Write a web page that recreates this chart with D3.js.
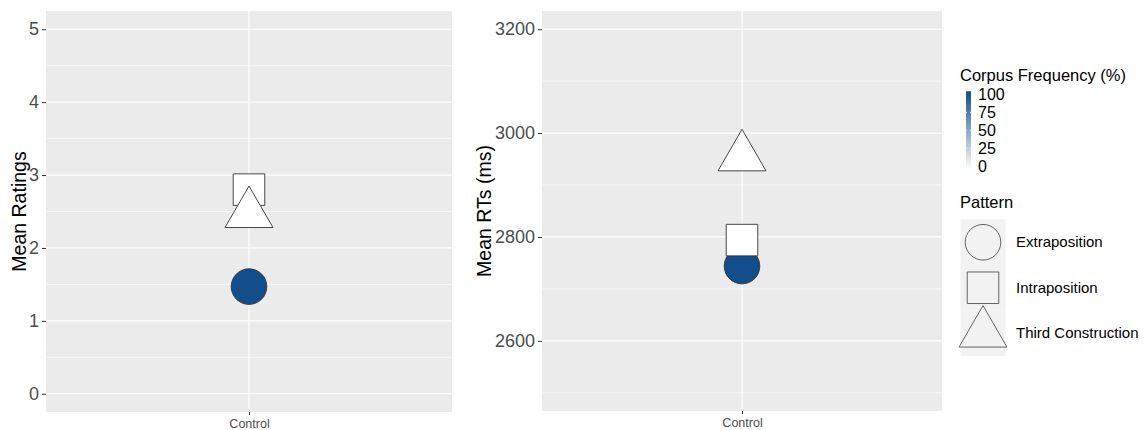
<!DOCTYPE html>
<html>
<head>
<meta charset="utf-8">
<script src="https://cdn.jsdelivr.net/npm/d3@7"></script>
<style>
  body { margin: 0; background: #fff; }
  svg { display: block; font-family: "Liberation Sans", Arial, sans-serif; }
</style>
</head>
<body>
<svg id="root" width="1145" height="430"></svg>
<script>
(function () {
  // data
  let patterns = ["Extraposition", "Intraposition", "Third Construction"];
  let conditions = ["Control"];
  let ratings = [1.47, 2.80, 2.47];
  let rts = [2744, 2794, 2954];
  let freq = [100, 0, 0];

  let ratingTicks = [0, 1, 2, 3, 4, 5];
  let ratingMinor = [0.5, 1.5, 2.5, 3.5, 4.5];
  let rtTicks = [2600, 2800, 3000, 3200];
  let rtMinor = [2500, 2700, 2900, 3100];
  let freqTicks = [0, 25, 50, 75, 100];

  let svg = d3.select("#root");

  let fillScale = d3.scaleLinear()
    .domain([0, 100])
    .range(["#ffffff", "#124e8b"]);

  let symbolTypes = [d3.symbolCircle, d3.symbolSquare, d3.symbolTriangle];
  let s = 17.8;
  let symbolSize = Math.PI * s * s;

  function drawPanel(opts) {
    let x = d3.scalePoint()
      .domain(conditions)
      .range([opts.left, opts.right])
      .padding(0.5);

    let y = d3.scaleLinear()
      .domain(opts.domain)
      .range([opts.bottom, opts.top]);

    let g = svg.append("g");

    g.append("rect")
      .attr("x", opts.left)
      .attr("y", opts.top)
      .attr("width", opts.right - opts.left)
      .attr("height", opts.bottom - opts.top)
      .attr("fill", "#ebebeb");

    g.selectAll(".minor")
      .data(opts.minor)
      .enter().append("line")
      .attr("x1", opts.left).attr("x2", opts.right)
      .attr("y1", d => y(d)).attr("y2", d => y(d))
      .attr("stroke", "#fff")
      .attr("stroke-width", 0.6);

    g.selectAll(".major")
      .data(opts.ticks)
      .enter().append("line")
      .attr("x1", opts.left).attr("x2", opts.right)
      .attr("y1", d => y(d)).attr("y2", d => y(d))
      .attr("stroke", "#fff")
      .attr("stroke-width", 1.2);

    g.selectAll(".vmajor")
      .data(conditions)
      .enter().append("line")
      .attr("x1", d => x(d)).attr("x2", d => x(d))
      .attr("y1", opts.top).attr("y2", opts.bottom)
      .attr("stroke", "#fff")
      .attr("stroke-width", 1.2);

    // y axis
    let yAxis = g.append("g")
      .attr("transform", `translate(${opts.left},0)`)
      .call(d3.axisLeft(y).tickValues(opts.ticks).tickFormat(d3.format("d")).tickSize(4).tickPadding(3));
    yAxis.select(".domain").remove();
    yAxis.selectAll("line").attr("stroke", "#333").attr("stroke-width", 1);
    yAxis.selectAll("text")
      .attr("fill", "#4d4d4d")
      .style("font-size", "18px")
      .style("font-family", "Liberation Sans, Arial, sans-serif");

    // x axis
    let xAxis = g.append("g")
      .attr("transform", `translate(0,${opts.bottom})`)
      .call(d3.axisBottom(x).tickSize(3).tickPadding(4.5));
    xAxis.select(".domain").remove();
    xAxis.selectAll("line").attr("stroke", "#333").attr("stroke-width", 1);
    xAxis.selectAll("text")
      .attr("fill", "#4d4d4d")
      .style("font-size", "12.5px")
      .style("font-family", "Liberation Sans, Arial, sans-serif");

    g.append("text")
      .attr("transform", `translate(${opts.titleX},${(opts.top + opts.bottom) / 2}) rotate(-90)`)
      .attr("text-anchor", "middle")
      .style("font-size", "19.5px")
      .attr("fill", "#000")
      .text(opts.title);

    // points, in data order (circle, square, triangle)
    g.selectAll(".pt")
      .data(patterns)
      .enter().append("path")
      .attr("d", (d, i) => d3.symbol().type(symbolTypes[i]).size(symbolSize)())
      .attr("transform", (d, i) => `translate(${x("Control")},${y(opts.values[i])})`)
      .attr("fill", (d, i) => fillScale(freq[i]))
      .attr("stroke", "#333")
      .attr("stroke-width", 0.9);
  }

  drawPanel({
    left: 46, right: 452, top: 11, bottom: 412,
    domain: [-0.25, 5.25],
    ticks: ratingTicks, minor: ratingMinor,
    values: ratings,
    title: "Mean Ratings", titleX: 26
  });

  drawPanel({
    left: 542, right: 942, top: 11, bottom: 411,
    domain: [2465, 3235],
    ticks: rtTicks, minor: rtMinor,
    values: rts,
    title: "Mean RTs (ms)", titleX: 491
  });

  // colour bar legend
  let legend = svg.append("g");

  legend.append("text")
    .attr("x", 960)
    .attr("y", 81)
    .style("font-size", "16.5px")
    .attr("fill", "#000")
    .text("Corpus Frequency (%)");

  let cy = d3.scaleLinear().domain([0, 100]).range([166.3, 94.3]);

  let grad = svg.append("defs").append("linearGradient")
    .attr("id", "freqGrad")
    .attr("x1", 0).attr("y1", 1).attr("x2", 0).attr("y2", 0);
  grad.selectAll("stop")
    .data(freqTicks)
    .enter().append("stop")
    .attr("offset", d => d / 100)
    .attr("stop-color", d => fillScale(d));

  let barX = 966, barW = 5;
  legend.append("rect")
    .attr("x", barX)
    .attr("y", cy(100) - 3)
    .attr("width", barW)
    .attr("height", cy(0) - cy(100) + 6)
    .attr("fill", "url(#freqGrad)");

  legend.selectAll(".ctick")
    .data(freqTicks.slice(1, 4))
    .enter().append("g")
    .each(function (d) {
      let t = d3.select(this);
      t.append("line")
        .attr("x1", barX).attr("x2", barX + 1)
        .attr("y1", cy(d)).attr("y2", cy(d))
        .attr("stroke", "#fff").attr("stroke-width", 0.8);
      t.append("line")
        .attr("x1", barX + barW - 1).attr("x2", barX + barW)
        .attr("y1", cy(d)).attr("y2", cy(d))
        .attr("stroke", "#fff").attr("stroke-width", 0.8);
    });

  legend.selectAll(".clab")
    .data(freqTicks)
    .enter().append("text")
    .attr("x", 978)
    .attr("y", d => cy(d) + 5.5)
    .style("font-size", "16px")
    .attr("fill", "#000")
    .text(d => d);

  // shape legend
  legend.append("text")
    .attr("x", 960)
    .attr("y", 207.5)
    .style("font-size", "16.5px")
    .attr("fill", "#000")
    .text("Pattern");

  let keyTop = 219.5, keyH = 45.5, keyX = 960.5, keyW = 45;

  let keys = legend.selectAll(".key")
    .data(patterns)
    .enter().append("g");

  keys.append("rect")
    .attr("x", keyX)
    .attr("y", (d, i) => keyTop + i * keyH)
    .attr("width", keyW)
    .attr("height", keyH)
    .attr("fill", "#f2f2f2");

  keys.append("path")
    .attr("d", (d, i) => d3.symbol().type(symbolTypes[i]).size(symbolSize)())
    .attr("transform", (d, i) => `translate(${keyX + keyW / 2},${keyTop + keyH * (i + 0.5)})`)
    .attr("fill", "none")
    .attr("stroke", "#555")
    .attr("stroke-width", 0.9);

  keys.append("text")
    .attr("x", 1016)
    .attr("y", (d, i) => keyTop + keyH * (i + 0.5) + 5)
    .style("font-size", "15px")
    .attr("fill", "#000")
    .text(d => d);
})();
</script>
</body>
</html>
